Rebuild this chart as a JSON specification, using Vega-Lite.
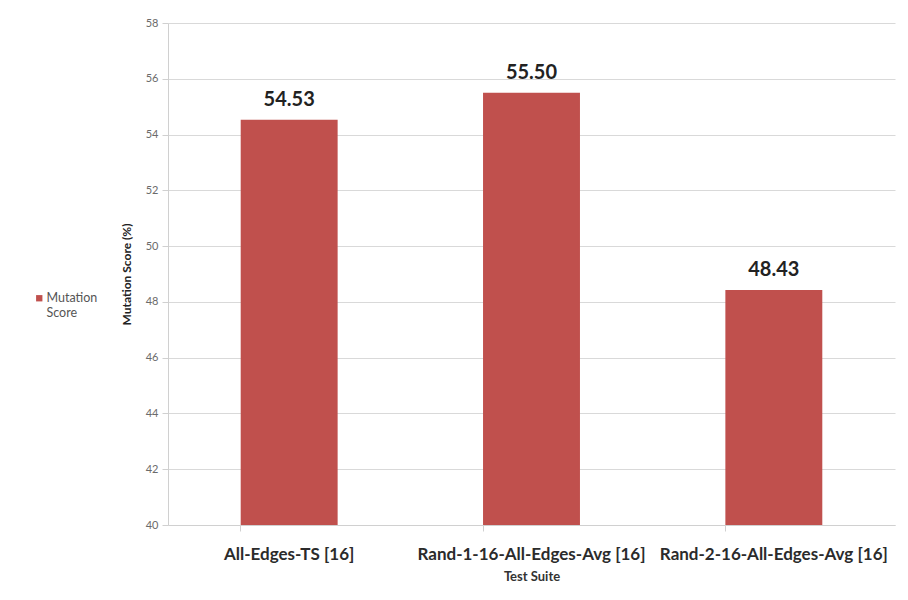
{
  "$schema": "https://vega.github.io/schema/vega-lite/v6.json",
  "width": 727,
  "height": 502,
  "autosize": {"type": "none"},
  "padding": {"left": 168, "top": 23, "right": 13, "bottom": 75},
  "background": "white",
  "config": {
    "font": "Lato",
    "view": {"stroke": null}
  },
  "data": {
    "values": [
      {"suite": "All-Edges-TS [16]", "score": 54.53, "series": "Mutation Score"},
      {"suite": "Rand-1-16-All-Edges-Avg [16]", "score": 55.50, "series": "Mutation Score"},
      {"suite": "Rand-2-16-All-Edges-Avg [16]", "score": 48.43, "series": "Mutation Score"}
    ]
  },
  "encoding": {
    "x": {
      "field": "suite",
      "type": "nominal",
      "sort": null,
      "scale": {"paddingInner": 0.6, "paddingOuter": 0.3},
      "axis": {
        "title": "Test Suite",
        "titleFontSize": 13,
        "titleFontWeight": "bold",
        "titleColor": "#333333",
        "titlePadding": 8,
        "labelAngle": 0,
        "labelFontSize": 17,
        "labelFontWeight": "bold",
        "labelColor": "#2b2b2b",
        "labelPadding": 15,
        "labelLimit": 300,
        "bandPosition": 0,
        "domainColor": "#d0d0d0",
        "tickColor": "#d0d0d0",
        "tickSize": 6
      }
    },
    "y": {
      "field": "score",
      "type": "quantitative",
      "scale": {"domain": [40, 58], "zero": false, "nice": false},
      "axis": {
        "title": "Mutation Score (%)",
        "titleFontSize": 12,
        "titleFontWeight": "bold",
        "titleColor": "#222222",
        "titlePadding": 12,
        "values": [40, 42, 44, 46, 48, 50, 52, 54, 56, 58],
        "labelFontSize": 11,
        "labelColor": "#6b6b6b",
        "labelPadding": 4,
        "domainColor": "#d0d0d0",
        "tickColor": "#d0d0d0",
        "tickSize": 6,
        "gridColor": "#d9d9d9",
        "gridWidth": 1.2
      }
    }
  },
  "layer": [
    {
      "mark": {"type": "bar", "color": "#C0504D", "clip": true},
      "encoding": {
        "color": {
          "field": "series",
          "type": "nominal",
          "scale": {"range": ["#C0504D"]},
          "legend": {
            "title": null,
            "orient": "none",
            "legendX": -135,
            "legendY": 269,
            "symbolType": "square",
            "symbolSize": 40,
            "symbolStrokeWidth": 0,
            "labelFontSize": 12.5,
            "labelColor": "#555555",
            "labelExpr": "['Mutation', 'Score']",
            "labelOffset": 1,
            "labelLineHeight": 17
          }
        }
      }
    },
    {
      "mark": {"type": "text", "dy": -20, "fontSize": 20, "fontWeight": "bold", "color": "#222222"},
      "encoding": {
        "text": {"field": "score", "type": "quantitative", "format": ".2f"}
      }
    }
  ]
}
